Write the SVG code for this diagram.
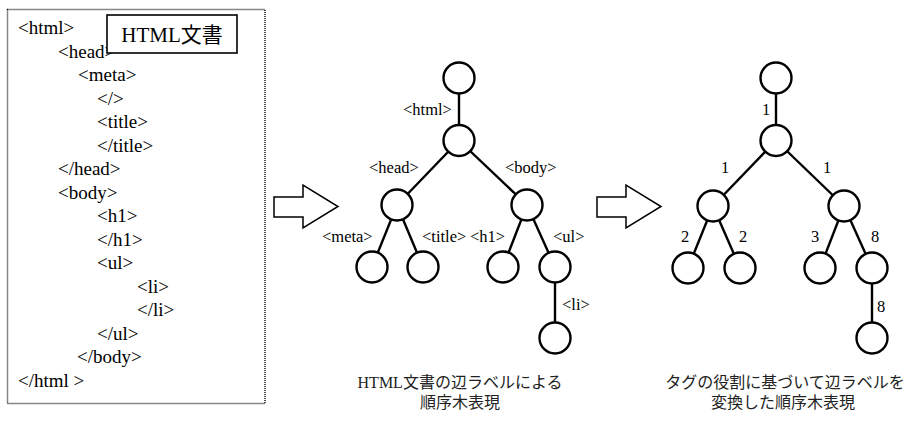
<svg xmlns="http://www.w3.org/2000/svg" width="903" height="421" viewBox="0 0 903 421">
  <style>
    .src { font-family: "Liberation Serif", "Noto Sans CJK JP", serif; font-size: 19px; fill: #000; }
    .lbl { font-family: "Liberation Serif", "Noto Sans CJK JP", serif; font-size: 16.5px; fill: #000; }
    .cap { font-family: "Liberation Serif", "Noto Sans CJK JP", sans-serif; font-size: 16px; fill: #222; text-anchor: middle; }
    .node { fill: #fff; stroke: #000; stroke-width: 2.4; }
    .edge { stroke: #000; stroke-width: 2.4; fill: none; }
    .big-arrow { fill: #fff; stroke: #000; stroke-width: 1.5; stroke-linejoin: miter; }
  </style>
  <defs>
    <!-- hollow block arrow, tip at the origin's right -->
    <polygon id="blockArrow" class="big-arrow" points="0,12 29,12 29,0 64,21.5 29,43 29,32 0,32"/>
  </defs>
  <rect width="903" height="421" fill="#fff"/>

  <!-- source listing -->
  <g id="source">
    <rect x="7.5" y="9.5" width="257.5" height="394" fill="none" stroke="#111" stroke-width="1.5" stroke-dasharray="1,1"/>
    <text class="src" x="18" y="34">&lt;html&gt;</text>
    <text class="src" x="58" y="57.5">&lt;head&gt;</text>
    <text class="src" x="78" y="81">&lt;meta&gt;</text>
    <text class="src" x="97" y="104.5">&lt;/&gt;</text>
    <text class="src" x="97" y="128">&lt;title&gt;</text>
    <text class="src" x="97" y="151.5">&lt;/title&gt;</text>
    <text class="src" x="58" y="175">&lt;/head&gt;</text>
    <text class="src" x="58" y="198.5">&lt;body&gt;</text>
    <text class="src" x="97" y="222">&lt;h1&gt;</text>
    <text class="src" x="97" y="245.5">&lt;/h1&gt;</text>
    <text class="src" x="97" y="269">&lt;ul&gt;</text>
    <text class="src" x="137" y="292.5">&lt;li&gt;</text>
    <text class="src" x="137" y="316">&lt;/li&gt;</text>
    <text class="src" x="97" y="339.5">&lt;/ul&gt;</text>
    <text class="src" x="77" y="363">&lt;/body&gt;</text>
    <text class="src" x="18" y="386.5">&lt;/html &gt;</text>
  </g>
  <g id="source-title">
    <rect x="107" y="15" width="130" height="38" fill="#fff" stroke="#000" stroke-width="1.6"/>
    <text class="src" x="172" y="42" text-anchor="middle" style="font-size:21px">HTML文書</text>
  </g>

  <!-- transformation arrows -->
  <g id="arrow-1"><use href="#blockArrow" x="274" y="185"/></g>
  <g id="arrow-2"><use href="#blockArrow" x="597" y="185"/></g>

  <!-- tree with tag labels -->
  <g id="tree-tags">
    <g id="tree-tags-edges">
      <line class="edge" x1="459" y1="78" x2="459" y2="140.5"/>
      <line class="edge" x1="459" y1="140.5" x2="397" y2="205"/>
      <line class="edge" x1="459" y1="140.5" x2="527" y2="205"/>
      <line class="edge" x1="397" y1="205" x2="372" y2="267"/>
      <line class="edge" x1="397" y1="205" x2="423" y2="267"/>
      <line class="edge" x1="527" y1="205" x2="503" y2="267"/>
      <line class="edge" x1="527" y1="205" x2="555" y2="267"/>
      <line class="edge" x1="555" y1="267" x2="555" y2="338"/>
    </g>
    <g id="t1-root"><circle class="node" cx="459" cy="78" r="15.5"/></g>
    <g id="t1-html"><circle class="node" cx="459" cy="140.5" r="15.5"/></g>
    <g id="t1-head"><circle class="node" cx="397" cy="205" r="15.5"/></g>
    <g id="t1-body"><circle class="node" cx="527" cy="205" r="15.5"/></g>
    <g id="t1-meta"><circle class="node" cx="372" cy="267" r="15.5"/></g>
    <g id="t1-title"><circle class="node" cx="423" cy="267" r="15.5"/></g>
    <g id="t1-h1"><circle class="node" cx="503" cy="267" r="15.5"/></g>
    <g id="t1-ul"><circle class="node" cx="555" cy="267" r="15.5"/></g>
    <g id="t1-li"><circle class="node" cx="555" cy="338" r="15.5"/></g>
    <g id="t1-labels">
      <text class="lbl" x="403" y="115">&lt;html&gt;</text>
      <text class="lbl" x="369" y="173">&lt;head&gt;</text>
      <text class="lbl" x="505" y="173">&lt;body&gt;</text>
      <text class="lbl" x="322" y="242">&lt;meta&gt;</text>
      <text class="lbl" x="422" y="242">&lt;title&gt;</text>
      <text class="lbl" x="470" y="242">&lt;h1&gt;</text>
      <text class="lbl" x="553" y="242">&lt;ul&gt;</text>
      <text class="lbl" x="562" y="310">&lt;li&gt;</text>
    </g>
    <text class="cap" x="460" y="388">HTML文書の辺ラベルによる</text>
    <text class="cap" x="460" y="408">順序木表現</text>
  </g>

  <!-- tree with role labels -->
  <g id="tree-roles">
    <g id="tree-roles-edges">
      <line class="edge" x1="776" y1="78" x2="776" y2="140.5"/>
      <line class="edge" x1="776" y1="140.5" x2="713" y2="206"/>
      <line class="edge" x1="776" y1="140.5" x2="844" y2="206"/>
      <line class="edge" x1="713" y1="206" x2="688" y2="268"/>
      <line class="edge" x1="713" y1="206" x2="740" y2="268"/>
      <line class="edge" x1="844" y1="206" x2="820" y2="268"/>
      <line class="edge" x1="844" y1="206" x2="872" y2="268"/>
      <line class="edge" x1="872" y1="268" x2="872" y2="338"/>
    </g>
    <g id="t2-root"><circle class="node" cx="776" cy="78" r="15.5"/></g>
    <g id="t2-n1"><circle class="node" cx="776" cy="140.5" r="15.5"/></g>
    <g id="t2-n2"><circle class="node" cx="713" cy="206" r="15.5"/></g>
    <g id="t2-n3"><circle class="node" cx="844" cy="206" r="15.5"/></g>
    <g id="t2-n4"><circle class="node" cx="688" cy="268" r="15.5"/></g>
    <g id="t2-n5"><circle class="node" cx="740" cy="268" r="15.5"/></g>
    <g id="t2-n6"><circle class="node" cx="820" cy="268" r="15.5"/></g>
    <g id="t2-n7"><circle class="node" cx="872" cy="268" r="15.5"/></g>
    <g id="t2-n8"><circle class="node" cx="872" cy="338" r="15.5"/></g>
    <g id="t2-labels">
      <text class="lbl" x="762" y="115">1</text>
      <text class="lbl" x="721" y="173">1</text>
      <text class="lbl" x="823" y="173">1</text>
      <text class="lbl" x="681" y="242">2</text>
      <text class="lbl" x="739" y="242">2</text>
      <text class="lbl" x="811" y="242">3</text>
      <text class="lbl" x="871" y="242">8</text>
      <text class="lbl" x="877" y="312">8</text>
    </g>
    <text class="cap" x="785" y="388">タグの役割に基づいて辺ラベルを</text>
    <text class="cap" x="783" y="408">変換した順序木表現</text>
  </g>
</svg>
